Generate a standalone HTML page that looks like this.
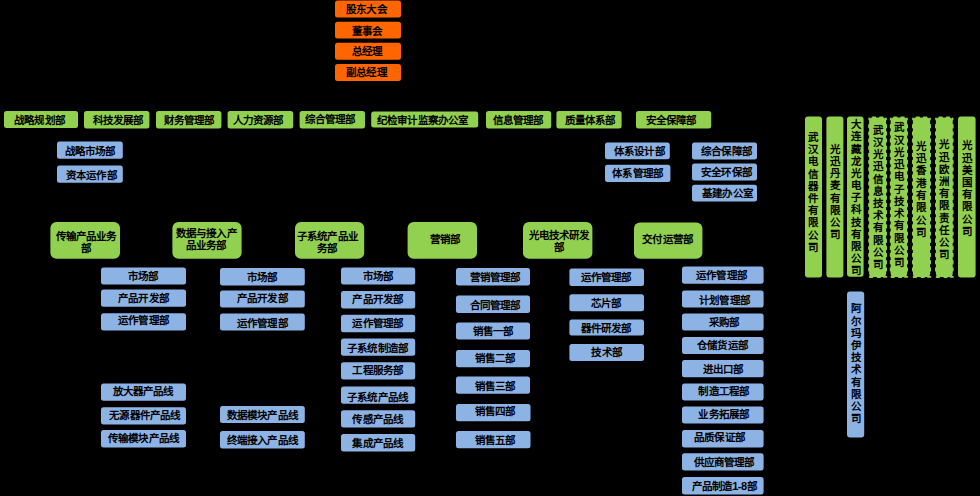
<!DOCTYPE html>
<html lang="zh-CN">
<head>
<meta charset="utf-8">
<title>组织架构图</title>
<style>
html,body{margin:0;padding:0;background:#000;}
body{width:980px;height:496px;position:relative;overflow:hidden;font-family:"Liberation Sans",sans-serif;font-weight:bold;font-size:10.5px;color:#000;}
.x{position:absolute;box-sizing:border-box;display:flex;align-items:center;justify-content:center;text-align:center;white-space:nowrap;line-height:12.2px;border-radius:2.5px;}
.G{line-height:12px;}
svg .o{fill:#ff6600;}
svg .g{fill:#92d050;}
svg .b{fill:#8db3e5;}
.v{display:block;white-space:normal;}
.v span{position:absolute;left:-4px;right:-4px;text-align:center;display:block;}
svg.bm{position:absolute;left:0;top:0;}
svg.bm line{fill:none;stroke:#92d050;stroke-width:1.8;stroke-linecap:round;}
.x i{font-style:normal;position:relative;display:block;letter-spacing:0.15px;}
.x em{font-style:normal;font-size:11px;letter-spacing:-0.5px;}
</style>
</head>
<body>
<svg class="bm" width="980" height="496" viewBox="0 0 980 496">
<rect class="o" x="335.0" y="0.6" width="66.0" height="16.8" rx="2.5"/>
<rect class="o" x="335.0" y="21.8" width="66.0" height="16.8" rx="2.5"/>
<rect class="o" x="335.0" y="42.8" width="66.0" height="17.0" rx="2.5"/>
<rect class="o" x="335.0" y="64.0" width="66.0" height="17.0" rx="2.5"/>
<rect class="g" x="4.0" y="111.0" width="74.0" height="17.0" rx="2.5"/>
<rect class="g" x="84.0" y="111.0" width="65.4" height="17.5" rx="2.5"/>
<rect class="g" x="156.0" y="111.0" width="65.4" height="17.5" rx="2.5"/>
<rect class="g" x="227.6" y="111.0" width="65.6" height="17.5" rx="2.5"/>
<rect class="g" x="299.6" y="111.0" width="65.4" height="17.5" rx="2.5"/>
<rect class="g" x="371.2" y="111.6" width="107.0" height="16.0" rx="2.5"/>
<rect class="g" x="486.0" y="111.0" width="65.2" height="17.5" rx="2.5"/>
<rect class="g" x="556.4" y="111.0" width="65.2" height="17.5" rx="2.5"/>
<rect class="g" x="636.0" y="111.0" width="75.2" height="17.5" rx="2.5"/>
<rect class="b" x="57.0" y="141.6" width="65.8" height="17.2" rx="2.5"/>
<rect class="b" x="57.0" y="165.6" width="65.8" height="17.2" rx="2.5"/>
<rect class="b" x="605.0" y="142.4" width="64.8" height="16.8" rx="2.5"/>
<rect class="b" x="605.0" y="164.8" width="65.4" height="17.2" rx="2.5"/>
<rect class="b" x="692.0" y="142.6" width="65.0" height="17.0" rx="2.5"/>
<rect class="b" x="692.0" y="163.6" width="65.0" height="16.8" rx="2.5"/>
<rect class="b" x="692.0" y="184.8" width="65.0" height="16.8" rx="2.5"/>
<rect class="g" x="50.4" y="222.0" width="69.6" height="36.8" rx="6.0"/>
<rect class="g" x="172.4" y="222.0" width="69.2" height="36.8" rx="6.0"/>
<rect class="g" x="295.0" y="222.0" width="69.2" height="36.8" rx="6.0"/>
<rect class="g" x="407.6" y="222.0" width="69.4" height="36.8" rx="6.0"/>
<rect class="g" x="523.0" y="222.0" width="69.4" height="36.8" rx="6.0"/>
<rect class="g" x="634.0" y="222.4" width="68.4" height="36.4" rx="6.0"/>
<rect class="b" x="101.0" y="267.4" width="85.0" height="17.2" rx="2.5"/>
<rect class="b" x="101.0" y="289.6" width="85.0" height="17.2" rx="2.5"/>
<rect class="b" x="101.0" y="313.2" width="85.0" height="17.2" rx="2.5"/>
<rect class="b" x="101.0" y="383.4" width="85.0" height="17.4" rx="2.5"/>
<rect class="b" x="101.0" y="407.2" width="85.0" height="17.2" rx="2.5"/>
<rect class="b" x="101.0" y="430.0" width="85.0" height="17.4" rx="2.5"/>
<rect class="b" x="220.0" y="268.0" width="84.8" height="17.4" rx="2.5"/>
<rect class="b" x="220.0" y="290.4" width="84.8" height="17.2" rx="2.5"/>
<rect class="b" x="220.0" y="313.4" width="84.8" height="17.0" rx="2.5"/>
<rect class="b" x="220.0" y="406.0" width="84.8" height="17.0" rx="2.5"/>
<rect class="b" x="220.0" y="431.0" width="84.8" height="17.4" rx="2.5"/>
<rect class="b" x="341.0" y="267.4" width="74.2" height="17.2" rx="2.5"/>
<rect class="b" x="341.0" y="291.0" width="74.2" height="17.4" rx="2.5"/>
<rect class="b" x="341.0" y="314.8" width="74.2" height="17.4" rx="2.5"/>
<rect class="b" x="341.0" y="338.4" width="74.2" height="17.4" rx="2.5"/>
<rect class="b" x="341.0" y="362.2" width="74.2" height="17.2" rx="2.5"/>
<rect class="b" x="341.0" y="386.6" width="74.2" height="17.2" rx="2.5"/>
<rect class="b" x="341.0" y="410.2" width="74.2" height="17.4" rx="2.5"/>
<rect class="b" x="341.0" y="434.0" width="74.2" height="17.4" rx="2.5"/>
<rect class="b" x="456.0" y="268.0" width="74.0" height="17.4" rx="2.5"/>
<rect class="b" x="456.0" y="295.6" width="74.0" height="17.4" rx="2.5"/>
<rect class="b" x="456.0" y="322.4" width="74.0" height="17.2" rx="2.5"/>
<rect class="b" x="456.0" y="350.0" width="74.0" height="17.2" rx="2.5"/>
<rect class="b" x="456.0" y="376.6" width="74.0" height="17.2" rx="2.5"/>
<rect class="b" x="456.0" y="404.0" width="74.5" height="17.2" rx="2.5"/>
<rect class="b" x="456.0" y="431.0" width="74.5" height="17.2" rx="2.5"/>
<rect class="b" x="569.4" y="268.6" width="74.6" height="17.4" rx="2.5"/>
<rect class="b" x="569.4" y="294.3" width="74.6" height="17.0" rx="2.5"/>
<rect class="b" x="569.4" y="319.4" width="74.6" height="16.2" rx="2.5"/>
<rect class="b" x="569.4" y="343.9" width="74.6" height="17.1" rx="2.5"/>
<rect class="b" x="682.0" y="266.6" width="81.6" height="17.2" rx="2.5"/>
<rect class="b" x="682.0" y="290.4" width="81.6" height="17.2" rx="2.5"/>
<rect class="b" x="682.0" y="313.4" width="81.6" height="17.1" rx="2.5"/>
<rect class="b" x="682.0" y="337.0" width="81.6" height="17.0" rx="2.5"/>
<rect class="b" x="682.0" y="360.0" width="81.6" height="17.2" rx="2.5"/>
<rect class="b" x="682.0" y="383.4" width="81.6" height="17.2" rx="2.5"/>
<rect class="b" x="682.0" y="406.4" width="81.6" height="17.2" rx="2.5"/>
<rect class="b" x="682.0" y="430.0" width="81.6" height="17.4" rx="2.5"/>
<rect class="b" x="682.0" y="453.2" width="81.6" height="17.4" rx="2.5"/>
<rect class="b" x="682.0" y="477.0" width="81.6" height="17.6" rx="2.5"/>
<rect class="g" x="805.0" y="116.6" width="17.0" height="160.8" rx="3.0"/>
<rect class="g" x="826.4" y="116.6" width="17.0" height="160.8" rx="3.0"/>
<rect class="g" x="847.0" y="116.6" width="16.6" height="160.2" rx="3.0"/>
<rect class="g" x="869.1" y="117.5" width="17.0" height="159.6" rx="3.5"/>
<rect class="g" x="890.7" y="117.5" width="16.4" height="159.6" rx="3.5"/>
<rect class="g" x="912.9" y="117.5" width="17.2" height="159.6" rx="3.5"/>
<rect class="g" x="935.9" y="117.5" width="16.8" height="159.6" rx="3.5"/>
<rect class="g" x="958.0" y="116.6" width="17.6" height="160.8" rx="3.0"/>
<rect class="b" x="847.0" y="291.4" width="17.2" height="146.2" rx="3.0"/>
<line x1="869.10" y1="124.95" x2="869.10" y2="270.66" stroke-dasharray="2.600 4.555"/>
<line x1="886.10" y1="124.95" x2="886.10" y2="270.66" stroke-dasharray="2.600 4.555"/>
<line x1="872.65" y1="117.50" x2="882.55" y2="117.50" stroke-dasharray="2.600 4.700"/>
<line x1="869.25" y1="118.50" x2="869.25" y2="119.50"/>
<line x1="885.95" y1="118.50" x2="885.95" y2="119.50"/>
<line x1="869.80" y1="277.00" x2="872.40" y2="277.00"/>
<line x1="877.55" y1="277.10" x2="880.15" y2="277.10"/>
<line x1="883.80" y1="276.80" x2="886.40" y2="276.80"/>
<line x1="890.70" y1="124.95" x2="890.70" y2="270.66" stroke-dasharray="2.600 4.555"/>
<line x1="907.10" y1="124.95" x2="907.10" y2="270.66" stroke-dasharray="2.600 4.555"/>
<line x1="893.95" y1="117.50" x2="903.85" y2="117.50" stroke-dasharray="2.600 4.700"/>
<line x1="890.85" y1="118.50" x2="890.85" y2="119.50"/>
<line x1="906.95" y1="118.50" x2="906.95" y2="119.50"/>
<line x1="891.40" y1="277.00" x2="894.00" y2="277.00"/>
<line x1="898.85" y1="277.10" x2="901.45" y2="277.10"/>
<line x1="904.80" y1="276.80" x2="907.40" y2="276.80"/>
<line x1="912.90" y1="124.95" x2="912.90" y2="270.66" stroke-dasharray="2.600 4.555"/>
<line x1="930.10" y1="124.95" x2="930.10" y2="270.66" stroke-dasharray="2.600 4.555"/>
<line x1="916.55" y1="117.50" x2="926.45" y2="117.50" stroke-dasharray="2.600 4.700"/>
<line x1="913.05" y1="118.50" x2="913.05" y2="119.50"/>
<line x1="929.95" y1="118.50" x2="929.95" y2="119.50"/>
<line x1="913.60" y1="277.00" x2="916.20" y2="277.00"/>
<line x1="921.45" y1="277.10" x2="924.05" y2="277.10"/>
<line x1="927.80" y1="276.80" x2="930.40" y2="276.80"/>
<line x1="935.90" y1="124.95" x2="935.90" y2="270.66" stroke-dasharray="2.600 4.555"/>
<line x1="952.70" y1="124.95" x2="952.70" y2="270.66" stroke-dasharray="2.600 4.555"/>
<line x1="939.35" y1="117.50" x2="949.25" y2="117.50" stroke-dasharray="2.600 4.700"/>
<line x1="936.05" y1="118.50" x2="936.05" y2="119.50"/>
<line x1="952.55" y1="118.50" x2="952.55" y2="119.50"/>
<line x1="936.60" y1="277.00" x2="939.20" y2="277.00"/>
<line x1="944.25" y1="277.10" x2="946.85" y2="277.10"/>
<line x1="950.40" y1="276.80" x2="953.00" y2="276.80"/>
</svg>
<div class="x o" style="left:335.0px;top:0.6px;width:66.0px;height:16.8px;"><i style="left:-1.50px;top:0.30px">股东大会</i></div>
<div class="x o" style="left:335.0px;top:21.8px;width:66.0px;height:16.8px;"><i style="left:-1.00px;top:0.90px">董事会</i></div>
<div class="x o" style="left:335.0px;top:42.8px;width:66.0px;height:17.0px;"><i style="left:-1.00px;top:0.30px">总经理</i></div>
<div class="x o" style="left:335.0px;top:64.0px;width:66.0px;height:17.0px;"><i style="left:-1.50px;top:-0.30px">副总经理</i></div>
<div class="x g" style="left:4.0px;top:111.0px;width:74.0px;height:17.0px;"><i style="left:-1.50px;top:0.30px">战略规划部</i></div>
<div class="x g" style="left:84.0px;top:111.0px;width:65.4px;height:17.5px;"><i style="left:1.50px;top:0.30px">科技发展部</i></div>
<div class="x g" style="left:156.0px;top:111.0px;width:65.4px;height:17.5px;"><i style="left:0.50px;top:0.30px">财务管理部</i></div>
<div class="x g" style="left:227.6px;top:111.0px;width:65.6px;height:17.5px;"><i style="left:-2.25px;top:0.30px">人力资源部</i></div>
<div class="x g" style="left:299.6px;top:111.0px;width:65.4px;height:17.5px;"><i style="left:-2.25px;top:-0.20px">综合管理部</i></div>
<div class="x g" style="left:371.2px;top:111.6px;width:107.0px;height:16.0px;"><i style="left:-2.10px;top:0.30px">纪检审计监察办公室</i></div>
<div class="x g" style="left:486.0px;top:111.0px;width:65.2px;height:17.5px;"><i style="left:-0.50px;top:0.30px">信息管理部</i></div>
<div class="x g" style="left:556.4px;top:111.0px;width:65.2px;height:17.5px;"><i style="left:1.00px;top:0.30px">质量体系部</i></div>
<div class="x g" style="left:636.0px;top:111.0px;width:75.2px;height:17.5px;"><i style="left:-2.60px;top:0.30px">安全保障部</i></div>
<div class="x b" style="left:57.0px;top:141.6px;width:65.8px;height:17.2px;"><i style="left:0.25px;top:0.80px">战略市场部</i></div>
<div class="x b" style="left:57.0px;top:165.6px;width:65.8px;height:17.2px;"><i style="left:1.40px;top:0.80px">资本运作部</i></div>
<div class="x b" style="left:605.0px;top:142.4px;width:64.8px;height:16.8px;"><i style="left:2.00px;top:0.80px">体系设计部</i></div>
<div class="x b" style="left:605.0px;top:164.8px;width:65.4px;height:17.2px;"><i style="left:0.00px;top:-0.45px">体系管理部</i></div>
<div class="x b" style="left:692.0px;top:142.6px;width:65.0px;height:17.0px;"><i style="left:2.00px;top:0.05px">综合保障部</i></div>
<div class="x b" style="left:692.0px;top:163.6px;width:65.0px;height:16.8px;"><i style="left:2.00px;top:0.05px">安全环保部</i></div>
<div class="x b" style="left:692.0px;top:184.8px;width:65.0px;height:16.8px;"><i style="left:3.00px;top:0.30px">基建办公室</i></div>
<div class="x G" style="left:50.4px;top:222.0px;width:69.6px;height:36.8px;"><i style="left:0.90px;top:1.50px">传输产品业务<br>部</i></div>
<div class="x G" style="left:172.4px;top:222.0px;width:69.2px;height:36.8px;"><i style="left:-0.75px;top:-1.70px">数据与接入产<br>品业务部</i></div>
<div class="x G" style="left:295.0px;top:222.0px;width:69.2px;height:36.8px;"><i style="left:-2.10px;top:1.50px">子系统产品业<br>务部</i></div>
<div class="x G" style="left:407.6px;top:222.0px;width:69.4px;height:36.8px;"><i style="left:2.50px;top:-1.30px">营销部</i></div>
<div class="x G" style="left:523.0px;top:222.0px;width:69.4px;height:36.8px;"><i style="left:1.50px;top:0.80px">光电技术研发<br>部</i></div>
<div class="x G" style="left:634.0px;top:222.4px;width:68.4px;height:36.4px;"><i style="left:-0.50px;top:-1.70px">交付运营部</i></div>
<div class="x b" style="left:101.0px;top:267.4px;width:85.0px;height:17.2px;"><i style="left:-0.50px;top:-0.20px">市场部</i></div>
<div class="x b" style="left:101.0px;top:289.6px;width:85.0px;height:17.2px;"><i style="left:0.00px;top:-0.20px">产品开发部</i></div>
<div class="x b" style="left:101.0px;top:313.2px;width:85.0px;height:17.2px;"><i style="left:0.00px;top:-1.70px">运作管理部</i></div>
<div class="x b" style="left:101.0px;top:383.4px;width:85.0px;height:17.4px;"><i style="left:-0.50px;top:-1.20px">放大器产品线</i></div>
<div class="x b" style="left:101.0px;top:407.2px;width:85.0px;height:17.2px;"><i style="left:1.30px;top:-0.20px">无源器件产品线</i></div>
<div class="x b" style="left:101.0px;top:430.0px;width:85.0px;height:17.4px;"><i style="left:0.00px;top:-0.20px">传输模块产品线</i></div>
<div class="x b" style="left:220.0px;top:268.0px;width:84.8px;height:17.4px;"><i style="left:-0.50px;top:0.05px">市场部</i></div>
<div class="x b" style="left:220.0px;top:290.4px;width:84.8px;height:17.2px;"><i style="left:0.00px;top:-1.20px">产品开发部</i></div>
<div class="x b" style="left:220.0px;top:313.4px;width:84.8px;height:17.0px;"><i style="left:0.00px;top:1.30px">运作管理部</i></div>
<div class="x b" style="left:220.0px;top:406.0px;width:84.8px;height:17.0px;"><i style="left:0.00px;top:0.80px">数据模块产品线</i></div>
<div class="x b" style="left:220.0px;top:431.0px;width:84.8px;height:17.4px;"><i style="left:0.00px;top:0.80px">终端接入产品线</i></div>
<div class="x b" style="left:341.0px;top:267.4px;width:74.2px;height:17.2px;"><i style="left:-0.25px;top:0.30px">市场部</i></div>
<div class="x b" style="left:341.0px;top:291.0px;width:74.2px;height:17.4px;"><i style="left:-0.25px;top:-0.95px">产品开发部</i></div>
<div class="x b" style="left:341.0px;top:314.8px;width:74.2px;height:17.4px;"><i style="left:-0.25px;top:-0.70px">运作管理部</i></div>
<div class="x b" style="left:341.0px;top:338.4px;width:74.2px;height:17.4px;"><i style="left:-0.50px;top:1.05px">子系统制造部</i></div>
<div class="x b" style="left:341.0px;top:362.2px;width:74.2px;height:17.2px;"><i style="left:-0.25px;top:-0.95px">工程服务部</i></div>
<div class="x b" style="left:341.0px;top:386.6px;width:74.2px;height:17.2px;"><i style="left:-0.50px;top:1.80px">子系统产品线</i></div>
<div class="x b" style="left:341.0px;top:410.2px;width:74.2px;height:17.4px;"><i style="left:-0.25px;top:0.30px">传感产品线</i></div>
<div class="x b" style="left:341.0px;top:434.0px;width:74.2px;height:17.4px;"><i style="left:-0.25px;top:0.80px">集成产品线</i></div>
<div class="x b" style="left:456.0px;top:268.0px;width:74.0px;height:17.4px;"><i style="left:2.25px;top:0.55px">营销管理部</i></div>
<div class="x b" style="left:456.0px;top:295.6px;width:74.0px;height:17.4px;"><i style="left:2.25px;top:0.80px">合同管理部</i></div>
<div class="x b" style="left:456.0px;top:322.4px;width:74.0px;height:17.2px;"><i style="left:0.20px;top:-0.10px">销售一部</i></div>
<div class="x b" style="left:456.0px;top:350.0px;width:74.0px;height:17.2px;"><i style="left:2.00px;top:-0.95px">销售二部</i></div>
<div class="x b" style="left:456.0px;top:376.6px;width:74.0px;height:17.2px;"><i style="left:2.00px;top:1.30px">销售三部</i></div>
<div class="x b" style="left:456.0px;top:404.0px;width:74.5px;height:17.2px;"><i style="left:2.00px;top:-1.70px">销售四部</i></div>
<div class="x b" style="left:456.0px;top:431.0px;width:74.5px;height:17.2px;"><i style="left:2.00px;top:0.55px">销售五部</i></div>
<div class="x b" style="left:569.4px;top:268.6px;width:74.6px;height:17.4px;"><i style="left:-0.75px;top:-0.20px">运作管理部</i></div>
<div class="x b" style="left:569.4px;top:294.3px;width:74.6px;height:17.0px;"><i style="left:-0.50px;top:0.80px">芯片部</i></div>
<div class="x b" style="left:569.4px;top:319.4px;width:74.6px;height:16.2px;"><i style="left:-0.75px;top:0.80px">器件研发部</i></div>
<div class="x b" style="left:569.4px;top:343.9px;width:74.6px;height:17.1px;"><i style="left:0.00px;top:-0.45px">技术部</i></div>
<div class="x b" style="left:682.0px;top:266.6px;width:81.6px;height:17.2px;"><i style="left:-1.25px;top:-0.20px">运作管理部</i></div>
<div class="x b" style="left:682.0px;top:290.4px;width:81.6px;height:17.2px;"><i style="left:1.75px;top:1.05px">计划管理部</i></div>
<div class="x b" style="left:682.0px;top:313.4px;width:81.6px;height:17.1px;"><i style="left:1.00px;top:0.55px">采购部</i></div>
<div class="x b" style="left:682.0px;top:337.0px;width:81.6px;height:17.0px;"><i style="left:-0.25px;top:-0.20px">仓储货运部</i></div>
<div class="x b" style="left:682.0px;top:360.0px;width:81.6px;height:17.2px;"><i style="left:0.50px;top:0.30px">进出口部</i></div>
<div class="x b" style="left:682.0px;top:383.4px;width:81.6px;height:17.2px;"><i style="left:1.00px;top:-0.45px">制造工程部</i></div>
<div class="x b" style="left:682.0px;top:406.4px;width:81.6px;height:17.2px;"><i style="left:1.00px;top:-0.95px">业务拓展部</i></div>
<div class="x b" style="left:682.0px;top:430.0px;width:81.6px;height:17.4px;"><i style="left:-3.25px;top:-1.45px">品质保证部</i></div>
<div class="x b" style="left:682.0px;top:453.2px;width:81.6px;height:17.4px;"><i style="left:1.40px;top:0.05px">供应商管理部</i></div>
<div class="x b" style="left:682.0px;top:477.0px;width:81.6px;height:17.6px;"><i style="left:1.40px;top:0.80px">产品制造<em>1-8</em>部</i></div>
<div class="x g v" style="left:805.0px;top:116.6px;width:17.0px;height:160.8px;"><span style="top:14.30px;margin-left:-1.20px">武</span><span style="top:26.52px;margin-left:-1.20px">汉</span><span style="top:38.74px;margin-left:-1.20px">电</span><span style="top:50.97px;margin-left:-1.20px">信</span><span style="top:63.19px;margin-left:-1.20px">器</span><span style="top:75.41px;margin-left:-1.20px">件</span><span style="top:87.63px;margin-left:-1.20px">有</span><span style="top:99.86px;margin-left:-1.20px">限</span><span style="top:112.08px;margin-left:-1.20px">公</span><span style="top:124.30px;margin-left:-1.20px">司</span></div>
<div class="x g v" style="left:826.4px;top:116.6px;width:17.0px;height:160.8px;"><span style="top:26.30px;margin-left:0.00px">光</span><span style="top:38.50px;margin-left:0.00px">迅</span><span style="top:50.70px;margin-left:0.00px">丹</span><span style="top:62.90px;margin-left:0.00px">麦</span><span style="top:75.10px;margin-left:0.00px">有</span><span style="top:87.30px;margin-left:0.00px">限</span><span style="top:99.50px;margin-left:0.00px">公</span><span style="top:111.70px;margin-left:0.00px">司</span></div>
<div class="x g v" style="left:847.0px;top:116.6px;width:16.6px;height:160.2px;"><span style="top:1.70px;margin-left:1.20px">大</span><span style="top:13.87px;margin-left:1.20px">连</span><span style="top:26.03px;margin-left:1.20px">藏</span><span style="top:38.20px;margin-left:1.20px">龙</span><span style="top:50.37px;margin-left:1.20px">光</span><span style="top:62.53px;margin-left:1.20px">电</span><span style="top:74.70px;margin-left:1.20px">子</span><span style="top:86.87px;margin-left:1.20px">科</span><span style="top:99.03px;margin-left:1.20px">技</span><span style="top:111.20px;margin-left:1.20px">有</span><span style="top:123.37px;margin-left:1.20px">限</span><span style="top:135.53px;margin-left:1.20px">公</span><span style="top:147.70px;margin-left:1.20px">司</span></div>
<div class="x g v d" style="left:869.1px;top:117.5px;width:17.0px;height:159.6px;"><span style="top:6.40px;margin-left:0.00px">武</span><span style="top:18.58px;margin-left:0.00px">汉</span><span style="top:30.76px;margin-left:0.00px">光</span><span style="top:42.95px;margin-left:0.00px">迅</span><span style="top:55.13px;margin-left:0.00px">信</span><span style="top:67.31px;margin-left:0.00px">息</span><span style="top:79.49px;margin-left:0.00px">技</span><span style="top:91.67px;margin-left:0.00px">术</span><span style="top:103.85px;margin-left:0.00px">有</span><span style="top:116.04px;margin-left:0.00px">限</span><span style="top:128.22px;margin-left:0.00px">公</span><span style="top:140.40px;margin-left:0.00px">司</span></div>
<div class="x g v d" style="left:890.7px;top:117.5px;width:16.4px;height:159.6px;"><span style="top:3.80px;margin-left:0.80px">武</span><span style="top:16.07px;margin-left:0.80px">汉</span><span style="top:28.35px;margin-left:0.80px">光</span><span style="top:40.62px;margin-left:0.80px">迅</span><span style="top:52.89px;margin-left:0.80px">电</span><span style="top:65.16px;margin-left:0.80px">子</span><span style="top:77.44px;margin-left:0.80px">技</span><span style="top:89.71px;margin-left:0.80px">术</span><span style="top:101.98px;margin-left:0.80px">有</span><span style="top:114.25px;margin-left:0.80px">限</span><span style="top:126.53px;margin-left:0.80px">公</span><span style="top:138.80px;margin-left:0.80px">司</span></div>
<div class="x g v d" style="left:912.9px;top:117.5px;width:17.2px;height:159.6px;"><span style="top:22.40px;margin-left:-1.00px">光</span><span style="top:34.69px;margin-left:-1.00px">迅</span><span style="top:46.97px;margin-left:-1.00px">香</span><span style="top:59.26px;margin-left:-1.00px">港</span><span style="top:71.54px;margin-left:-1.00px">有</span><span style="top:83.83px;margin-left:-1.00px">限</span><span style="top:96.11px;margin-left:-1.00px">公</span><span style="top:108.40px;margin-left:-1.00px">司</span></div>
<div class="x g v d" style="left:935.9px;top:117.5px;width:16.8px;height:159.6px;"><span style="top:20.80px;margin-left:0.00px">光</span><span style="top:33.02px;margin-left:0.00px">迅</span><span style="top:45.24px;margin-left:0.00px">欧</span><span style="top:57.47px;margin-left:0.00px">洲</span><span style="top:69.69px;margin-left:0.00px">有</span><span style="top:81.91px;margin-left:0.00px">限</span><span style="top:94.13px;margin-left:0.00px">责</span><span style="top:106.36px;margin-left:0.00px">任</span><span style="top:118.58px;margin-left:0.00px">公</span><span style="top:130.80px;margin-left:0.00px">司</span></div>
<div class="x g v" style="left:958.0px;top:116.6px;width:17.6px;height:160.8px;"><span style="top:22.70px;margin-left:0.00px">光</span><span style="top:34.93px;margin-left:0.00px">迅</span><span style="top:47.16px;margin-left:0.00px">美</span><span style="top:59.39px;margin-left:0.00px">国</span><span style="top:71.61px;margin-left:0.00px">有</span><span style="top:83.84px;margin-left:0.00px">限</span><span style="top:96.07px;margin-left:0.00px">公</span><span style="top:108.30px;margin-left:0.00px">司</span></div>
<div class="x b v" style="left:847.0px;top:291.4px;width:17.2px;height:146.2px;"><span style="top:10.90px;margin-left:0.00px">阿</span><span style="top:23.12px;margin-left:0.00px">尔</span><span style="top:35.34px;margin-left:0.00px">玛</span><span style="top:47.57px;margin-left:0.00px">伊</span><span style="top:59.79px;margin-left:0.00px">技</span><span style="top:72.01px;margin-left:0.00px">术</span><span style="top:84.23px;margin-left:0.00px">有</span><span style="top:96.46px;margin-left:0.00px">限</span><span style="top:108.68px;margin-left:0.00px">公</span><span style="top:120.90px;margin-left:0.00px">司</span></div>
</body>
</html>
